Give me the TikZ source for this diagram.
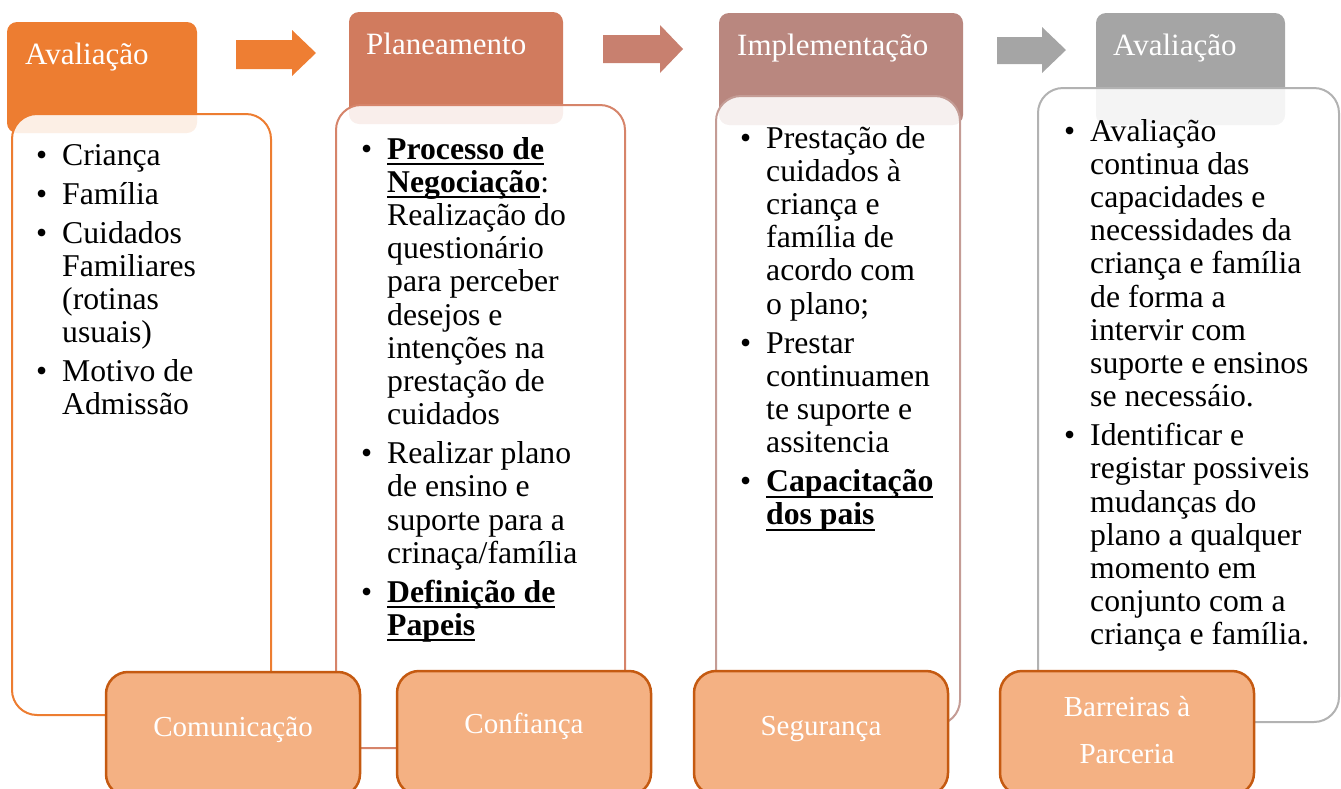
\documentclass[tikz,border=0pt]{standalone}
\usepackage{fontspec}
\setmainfont{Liberation Serif}
\definecolor{hA}{HTML}{ED7D31}
\definecolor{hB}{HTML}{D17B5E}
\definecolor{hC}{HTML}{B9877F}
\definecolor{hD}{HTML}{A5A5A5}
\definecolor{bA}{HTML}{ED7D31}
\definecolor{bB}{HTML}{D6846A}
\definecolor{bC}{HTML}{C49C95}
\definecolor{bD}{HTML}{B2B2B2}
\definecolor{aA}{HTML}{EE7E33}
\definecolor{aB}{HTML}{C8806F}
\definecolor{aC}{HTML}{A5A5A5}
\definecolor{botfill}{HTML}{F4B183}
\definecolor{botdraw}{HTML}{C55A11}
\newsavebox\ulbox
\newcommand{\ulbf}[1]{\sbox\ulbox{\bfseries #1}\rlap{\rule[-6pt]{\wd\ulbox}{2pt}}\usebox\ulbox}
\newcommand{\bitem}[1]{\par\hangindent=26pt\hangafter=1\noindent\makebox[26pt][l]{\textbullet}#1\par}
\newcommand{\bodyset}{\fontsize{31.7}{33.2}\selectfont\lineskiplimit=-100pt\parskip=5.8pt\relax}
\tikzset{
  hdr/.style={rounded corners=10pt, inner sep=0pt, outer sep=0pt, anchor=north west},
  cbox/.style={line width=2pt, fill=white, fill opacity=0.88, draw opacity=1, rounded corners=25pt, inner sep=0pt, outer sep=0pt, anchor=north west},
  bbox/.style={draw=botdraw, fill=botfill, line width=2.5pt, rounded corners=22pt, minimum width=254pt, minimum height=124pt, inner sep=0pt, outer sep=0pt, anchor=north west},
  htxt/.style={text=white, font=\fontsize{31}{33}\selectfont, inner sep=0pt, anchor=base west},
  btxt/.style={text=white, font=\fontsize{29}{33}\selectfont, inner sep=0pt, anchor=base},
  bodytxt/.style={inner sep=0pt, anchor=base west},
}
\begin{document}
\begin{tikzpicture}[x=1pt, y=-1pt]
\clip (0,0) rectangle (1341,788);
% headers
\node[hdr, fill=hA, minimum width=190pt, minimum height=111pt] (h1) at (7,22) {};
\node[hdr, fill=hB, minimum width=214pt, minimum height=112pt] (h2) at (349,12) {};
\node[hdr, fill=hC, minimum width=244pt, minimum height=112pt] (h3) at (719,13) {};
\node[hdr, fill=hD, minimum width=189pt, minimum height=112pt] (h4) at (1096,13) {};
\node[htxt] (h1t) at (25,64) {Avaliação};
\node[htxt] (h2t) at (366,54) {Planeamento};
\node[htxt] (h3t) at (737,55) {Implementação};
\node[htxt] (h4t) at (1113,55) {Avaliação};
% content boxes
\node[cbox, draw=bA, minimum width=259pt, minimum height=601pt] (c1) at (12,114) {};
\node[cbox, draw=bB, minimum width=289pt, minimum height=643pt] (c2) at (336,105) {};
\node[cbox, draw=bC, minimum width=244pt, minimum height=629pt] (c3) at (716,96) {};
\node[cbox, draw=bD, minimum width=301pt, minimum height=634pt] (c4) at (1038,88) {};
% body texts
\node[bodytxt] (t1) at (36,165) {\parbox[t]{400pt}{\bodyset
\bitem{Criança}
\bitem{Família}
\bitem{Cuidados\newline Familiares\newline (rotinas\newline usuais)}
\bitem{Motivo de\newline Admissão}}};
\node[bodytxt] (t2) at (361,159) {\parbox[t]{400pt}{\bodyset
\bitem{\ulbf{Processo de}\newline \ulbf{Negociação}: \newline Realização do\newline questionário\newline para perceber\newline desejos e\newline intenções na\newline prestação de\newline cuidados}
\bitem{Realizar plano\newline de ensino e\newline suporte para a\newline crinaça/família}
\bitem{\ulbf{Definição de}\newline \ulbf{Papeis}}}};
\node[bodytxt] (t3) at (740,148) {\parbox[t]{400pt}{\bodyset
\bitem{Prestação de\newline cuidados à\newline criança e\newline família de\newline acordo com\newline o plano;}
\bitem{Prestar\newline continuamen\newline te suporte e\newline assitencia}
\bitem{\ulbf{Capacitação}\newline \ulbf{dos pais}}}};
\node[bodytxt] (t4) at (1064,141) {\parbox[t]{400pt}{\bodyset
\bitem{Avaliação\newline continua das\newline capacidades e\newline necessidades da\newline criança e família\newline de forma a\newline intervir com\newline suporte e ensinos\newline se necessáio.}
\bitem{Identificar e\newline registar possiveis\newline mudanças do\newline plano a qualquer\newline momento em\newline conjunto com a\newline criança e família.}}};
% block arrows
\fill[aA] (236,40) -- (292,40) -- (292,30) -- (316,53) -- (292,76) -- (292,69) -- (236,69) -- cycle;
\fill[aB] (603,35) -- (660,35) -- (660,25) -- (683,49) -- (660,73) -- (660,63) -- (603,63) -- cycle;
\fill[aC] (997,37) -- (1042,37) -- (1042,27) -- (1066,50) -- (1042,73) -- (1042,64) -- (997,64) -- cycle;
% bottom boxes
\node[bbox] (b1) at (106,672) {};
\node[bbox] (b2) at (397,671) {};
\node[bbox] (b3) at (694,671) {};
\node[bbox] (b4) at (1000,671) {};
\node[btxt] (b1t) at (233,736) {Comunicação};
\node[btxt] (b2t) at (524,733) {Confiança};
\node[btxt] (b3t) at (821,735) {Segurança};
\node[btxt] (b4t) at (1127,716) {Barreiras à};
\node[btxt] (b4u) at (1127,763) {Parceria};
\end{tikzpicture}
\end{document}
